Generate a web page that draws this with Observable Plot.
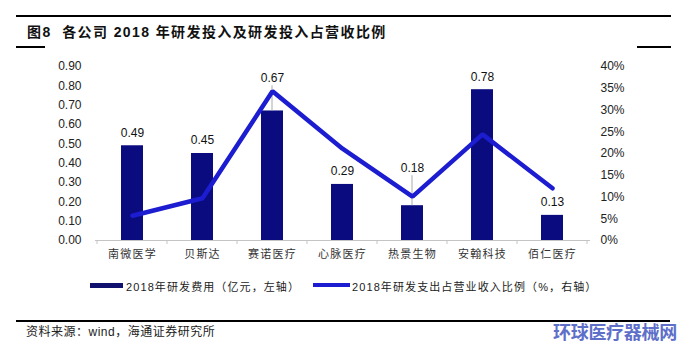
<!DOCTYPE html>
<html>
<head>
<meta charset="utf-8">
<script src="https://cdn.jsdelivr.net/npm/d3@7"></script>
<script src="https://cdn.jsdelivr.net/npm/@observablehq/plot@0.6"></script>
<style>
  body { margin: 0; background: #fff; }
  #wrap { position: relative; width: 690px; height: 352px; overflow: hidden; background: #fff;
          font-family: "Liberation Sans", Arial, "Noto Sans CJK SC", sans-serif; color: #111; }
  .hl { position: absolute; background: #000; }
  #title { position: absolute; left: 27px; top: 24px; font-size: 14px; font-weight: bold; line-height: 16px;
           letter-spacing: 1.4px; white-space: nowrap; color: #111; }
  #chart { position: absolute; left: 0; top: 56px; }
  .leg { position: absolute; font-size: 11px; line-height: 12px; letter-spacing: 1.1px; white-space: nowrap; color: #222; }
  .sw { position: absolute; }
  #source { position: absolute; left: 26px; top: 325px; font-size: 12px; line-height: 14px; letter-spacing: 0.5px; color: #222; white-space: nowrap; }
  #wm { position: absolute; left: 553px; top: 322px; font-size: 18px; line-height: 19px; font-weight: bold;
        color: #5d6fc9; white-space: nowrap; letter-spacing: -0.3px; font-family: "Noto Sans CJK SC", sans-serif; }
</style>
</head>
<body>
<div id="wrap">
  <div class="hl" style="left:16px;top:15px;width:655px;height:2px;"></div>
  <div id="title">图8&nbsp;&nbsp;各公司 2018 年研发投入及研发投入占营收比例</div>
  <div class="hl" style="left:16px;top:46px;width:29px;height:1.5px;"></div>
  <div class="hl" style="left:637px;top:46px;width:34px;height:1.5px;"></div>
  <div id="chart"></div>
  <div class="sw" style="left:90px;top:283px;width:33px;height:5px;background:#10106e;"></div>
  <div class="leg" style="left:126px;top:281px;">2018年研发费用（亿元，左轴）</div>
  <div class="sw" style="left:313px;top:283px;width:37px;height:4px;background:#1c1cd0;"></div>
  <div class="leg" style="left:352px;top:281px;">2018年研发支出占营业收入比例（%，右轴）</div>
  <div class="hl" style="left:16px;top:320px;width:654px;height:1.5px;"></div>
  <div id="source">资料来源：wind，海通证券研究所</div>
  <div id="wm">环球医疗器械网</div>
</div>
<script>
// ---- data ----
const companies = ["南微医学", "贝斯达", "赛诺医疗", "心脉医疗", "热景生物", "安翰科技", "佰仁医疗"];
const rdExpense = [0.49, 0.45, 0.67, 0.29, 0.18, 0.78, 0.13];          // 亿元, left axis
const rdRatio   = [0.057, 0.097, 0.343, 0.211, 0.101, 0.244, 0.120];   // share of revenue, right axis
const leftTicks  = [0, 0.1, 0.2, 0.3, 0.4, 0.5, 0.6, 0.7, 0.8, 0.9];
const rightTicks = [0, 0.05, 0.10, 0.15, 0.20, 0.25, 0.30, 0.35, 0.40];

// ---- build ----
const leftMax = 0.9, rightMax = 0.4, k = leftMax / rightMax;
const data = companies.map((c, i) => ({company: c, rd: rdExpense[i], ratio: rdRatio[i], ratioScaled: rdRatio[i] * k}));
const labelShift = {"赛诺医疗": -33, "热景生物": -38};
const defaultShift = -13;
const barColor = "#0b0b80", lineColor = "#1c1cd0";

const labelMarks = data.map(d => Plot.text([d], {
  x: "company", y: "rd", text: d => d.rd.toFixed(2),
  dy: labelShift[d.company] ?? defaultShift, fontSize: 12, fill: "#111"
}));

const chart = Plot.plot({
  width: 690, height: 210,
  marginTop: 10, marginBottom: 26, marginLeft: 95, marginRight: 100,
  style: {fontFamily: "'Liberation Sans', Arial, 'Noto Sans CJK SC', sans-serif", fontSize: "12px", background: "transparent"},
  x: {domain: companies, paddingInner: 0.68, paddingOuter: 0.34, label: null},
  y: {domain: [0, leftMax], label: null},
  marks: [
    Plot.barY(data, {x: "company", y: "rd", fill: barColor}),
    Plot.ruleY([0], {stroke: "#c4c4c4", strokeWidth: 1}),
    Plot.line(data, {x: "company", y: "ratioScaled", stroke: lineColor, strokeWidth: 4.5, strokeLinejoin: "miter", curve: "linear"}),
    ...labelMarks,
    Plot.axisY(leftTicks, {anchor: "left", tickSize: 0, tickPadding: 14, tickFormat: d => d.toFixed(2), fontSize: 12, fill: "#222", label: null}),
    Plot.axisY(rightTicks.map(p => p * k), {anchor: "right", tickSize: 0, tickPadding: 10, tickFormat: d => Math.round(d / k * 100) + "%", fontSize: 12, fill: "#222", label: null}),
    Plot.axisX({tickSize: 0, tickPadding: 10, fontSize: 11, fill: "#333", fontFamily: "'Noto Sans CJK SC', sans-serif", label: null})
  ]
});

// letter spacing for category labels
chart.querySelectorAll('[aria-label="x-axis tick label"] text').forEach(t => t.setAttribute("letter-spacing", "1.2"));

// category boundary ticks and label leader lines, positioned with Plot's own scales
const xs = chart.scale("x"), ys = chart.scale("y");
const svg = d3.select(chart.tagName.toLowerCase() === "svg" ? chart : chart.querySelector("svg"));
const gap = (xs.step - xs.bandwidth) / 2;
const y0 = ys.apply(0);
const edges = companies.map(c => xs.apply(c) - gap).concat([xs.apply(companies[companies.length - 1]) + xs.bandwidth + gap]);
svg.append("g").selectAll("line").data(edges).join("line")
  .attr("x1", d => d).attr("x2", d => d).attr("y1", y0).attr("y2", y0 + 4)
  .attr("stroke", "#c4c4c4").attr("stroke-width", 1);
svg.append("g").selectAll("line").data(data.filter(d => labelShift[d.company])).join("line")
  .attr("x1", d => xs.apply(d.company) + xs.bandwidth / 2)
  .attr("x2", d => xs.apply(d.company) + xs.bandwidth / 2)
  .attr("y1", d => ys.apply(d.rd))
  .attr("y2", d => ys.apply(d.rd) + labelShift[d.company] + 8)
  .attr("stroke", "#aaa").attr("stroke-width", 1);
// keep the line drawn over leaders
svg.node().appendChild(svg.select('[aria-label="line"]').node());

document.getElementById("chart").appendChild(chart);
</script>
</body>
</html>
